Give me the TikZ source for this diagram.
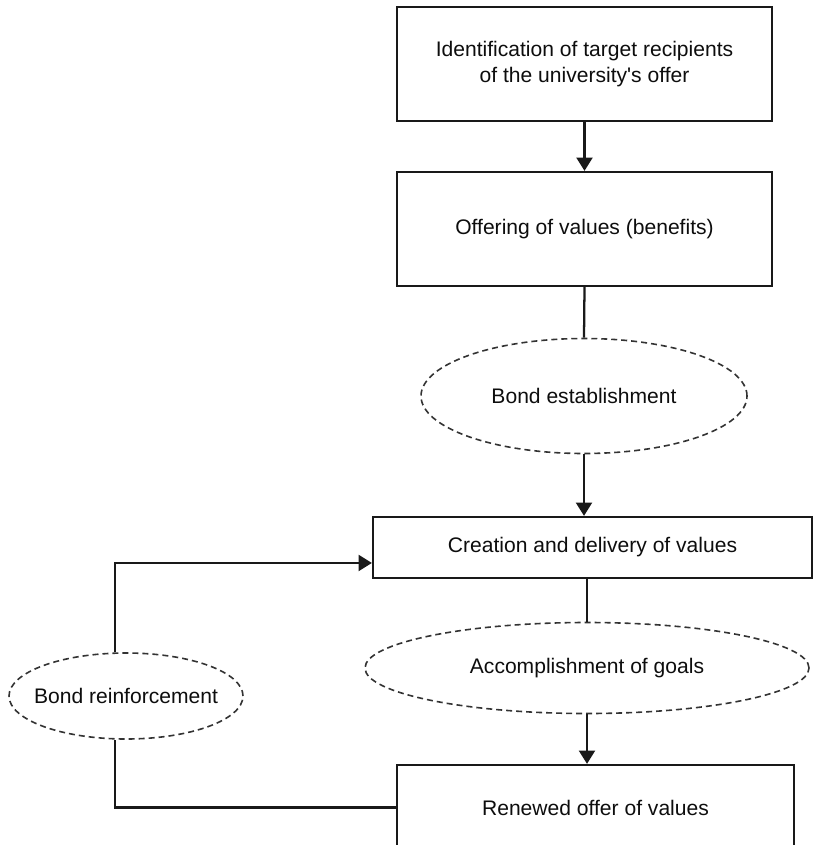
\documentclass[tikz,border=0pt]{standalone}
\usepackage{fontspec}
\setmainfont{Liberation Sans}
\usetikzlibrary{arrows.meta,shapes.geometric}
\begin{document}
\begin{tikzpicture}[x=0.75pt,y=-0.75pt,
  every node/.style={font=\fontsize{15.8}{19.5}\selectfont, inner sep=0pt, align=center, text=black!95},
  stepbox/.style={draw=black!90, line width=1.7pt, rectangle},
  bondell/.style={draw=black!80, line width=1.2pt, ellipse, dash pattern=on 4.5pt off 3pt},
  conn/.style={draw=black!90, line width=1.7pt},
  arr/.style={conn, -{Triangle[width=12pt,length=10pt]}}]
\useasboundingbox (0,0) rectangle (814,845);
\node[stepbox, minimum width=375*0.75pt, minimum height=114*0.75pt] (b1) at (584.5,64) {Identification of target recipients\\of the university\textquotesingle s offer};
\node[stepbox, minimum width=375*0.75pt, minimum height=114*0.75pt] (b2) at (584.5,229) {Offering of values (benefits)};
\node[bondell, minimum width=326*0.75pt, minimum height=115*0.75pt] (e1) at (584,396) {Bond establishment};
\node[stepbox, minimum width=439*0.75pt, minimum height=61*0.75pt] (b3) at (592.5,547.5) {Creation and delivery of values};
\node[bondell, minimum width=444*0.75pt, minimum height=91*0.75pt] (e2) at (587,668) {Accomplishment of goals};
\node[bondell, inner xsep=-40pt, minimum width=234*0.75pt, minimum height=86*0.75pt] (e3) at (126,696) {Bond reinforcement};
\node[stepbox, minimum width=397*0.75pt, minimum height=85*0.75pt] (b4) at (595.5,807.5) {Renewed offer of values};
\coordinate (fb) at (115,696);
\draw[arr] (b1.south) -- (b2.north);
\draw[conn] (b2.south) -- (e1.north);
\draw[arr] (e1.south) -- (e1.south |- b3.north);
\draw[conn] (e2.north |- b3.south) -- (e2.north);
\draw[arr] (e2.south) -- (e2.south |- b4.north);
\draw[conn] (b4.west) -| (e3.south -| fb);
\draw[arr] (e3.north -| fb) |- ([yshift=-11.6pt]b3.west);
\end{tikzpicture}
\end{document}
